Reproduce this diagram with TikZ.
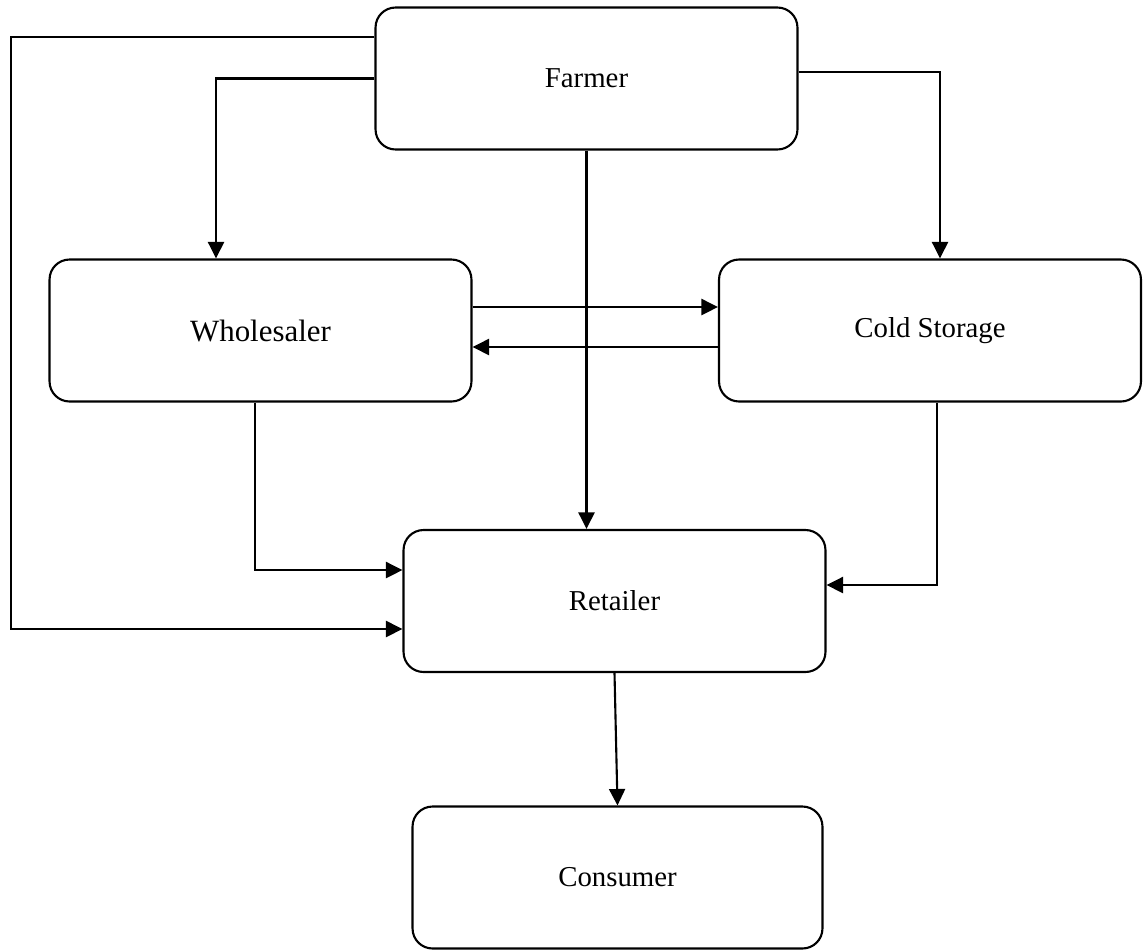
\documentclass[tikz,border=0pt]{standalone}
\usepackage{fontspec}
\setmainfont{Liberation Serif}
\usetikzlibrary{arrows.meta}
\begin{document}
\begin{tikzpicture}[x=0.02cm,y=-0.02cm,
    box/.style={draw,line width=1.2pt,rounded corners=0.4cm,minimum width=8.44cm,
      minimum height=2.84cm,inner sep=0pt,font=\fontsize{16.4}{20}\selectfont},
    flow/.style={line width=1.2pt,-{Triangle[length=0.33cm,width=0.32cm]}}]
    \useasboundingbox (0,0) rectangle (1146,951);

    % Drawing boxes
    \node [box] (farmer) at (586.5,78.5) {Farmer};
    \node [box,font=\fontsize{17.6}{21}\selectfont] (wholesaler) at (260.5,330.5) {Wholesaler};
    \node [box] (coldstorage) at (930,330.5) {\raisebox{-0.06cm}{Cold Storage}};
    \node [box] (retailer) at (614.5,601) {Retailer};
    \node [box,minimum width=8.2cm] (consumer) at (617.5,877.5) {Consumer};

    % Left rail, Farmer to Retailer
    \coordinate (leftrail) at (11,300);
    \coordinate (farmer-out) at ([yshift=0.83cm]farmer.west);
    \coordinate (retailer-in) at ([yshift=-0.56cm]retailer.west);
    \draw [flow] (farmer-out) -| (leftrail) |- (retailer-in);

    % Farmer to Wholesaler and Cold Storage
    \draw [flow] (farmer.west) -| ([xshift=-0.89cm]wholesaler.north);
    \draw [flow] ([yshift=0.13cm]farmer.east) -| ([xshift=0.2cm]coldstorage.north);

    % Farmer to Retailer
    \draw [flow] (farmer.south) -- (farmer.south |- retailer.north);

    % Wholesaler and Cold Storage
    \draw [flow] ([yshift=0.47cm]wholesaler.east) -- ([yshift=0.47cm]coldstorage.west);
    \draw [flow] ([yshift=-0.33cm]coldstorage.west) -- ([yshift=-0.33cm]wholesaler.east);

    % Into Retailer
    \draw [flow] ([xshift=-0.11cm]wholesaler.south) |- ([yshift=0.62cm]retailer.west);
    \draw [flow] ([xshift=0.14cm]coldstorage.south) |- ([yshift=0.32cm]retailer.east);

    % Retailer to Consumer
    \draw [flow] (retailer.south) -- (consumer.north);
\end{tikzpicture}
\end{document}
